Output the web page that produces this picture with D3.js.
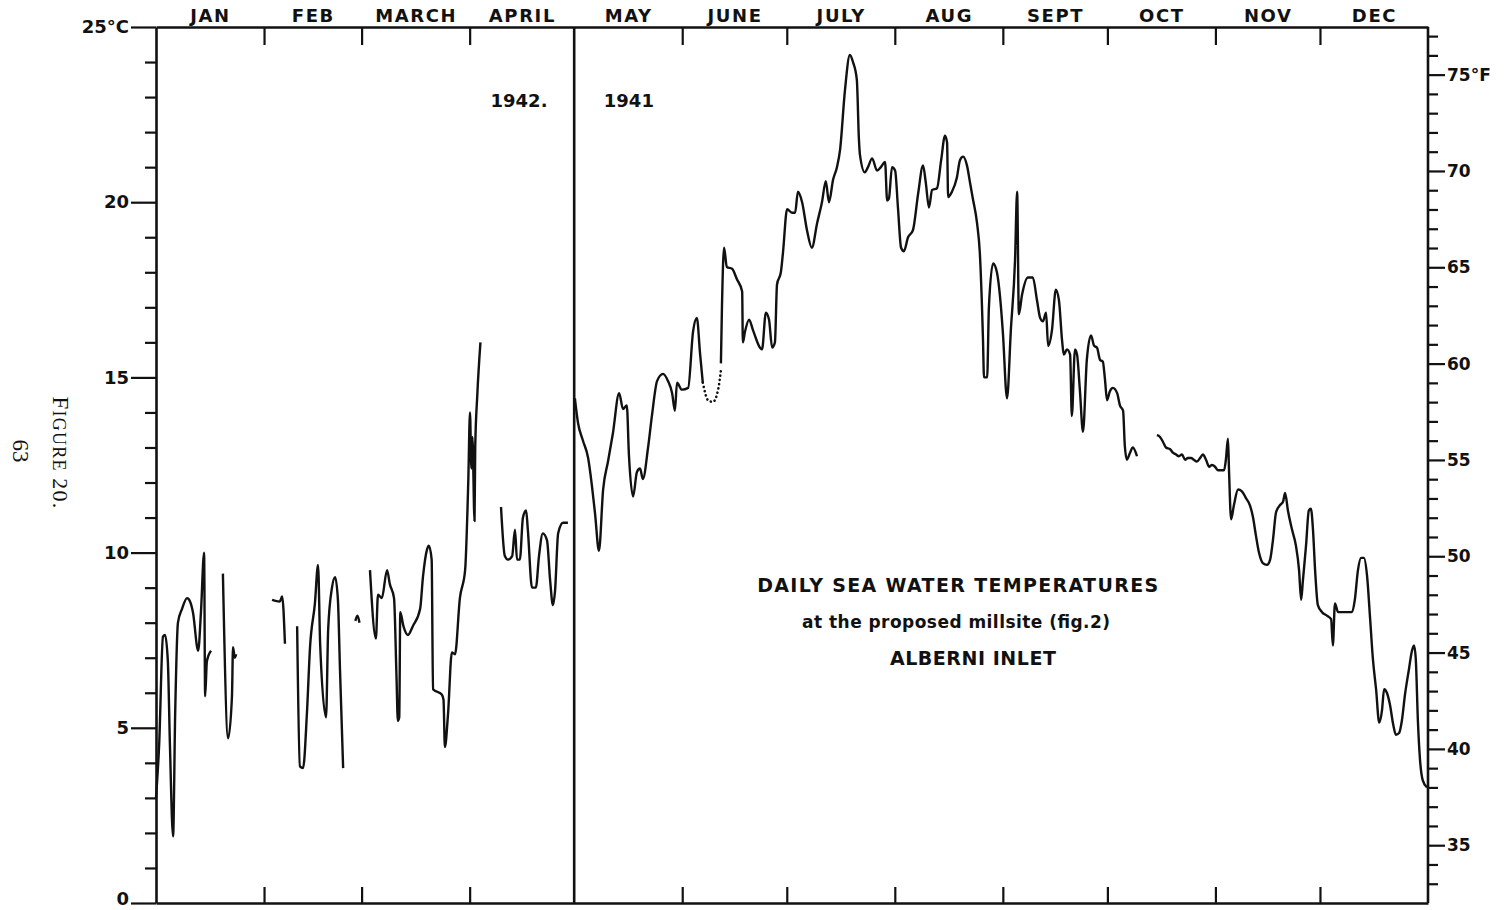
<!DOCTYPE html>
<html>
<head>
<meta charset="utf-8">
<script src="https://cdnjs.cloudflare.com/ajax/libs/d3/7.8.5/d3.min.js"></script>
<style>
  body { margin: 0; background: #fff; }
  svg { display: block; }
</style>
</head>
<body>
<svg id="chart" width="1506" height="910"></svg>
<script>
// month names and first day of each month (day of year, 0 = Jan 1)
const months = ["JAN", "FEB", "MARCH", "APRIL", "MAY", "JUNE", "JULY", "AUG", "SEPT", "OCT", "NOV", "DEC"];
const monthStart = [0, 31, 59, 90, 120, 151, 181, 212, 243, 273, 304, 334, 365];
const celsiusTicks = [0, 5, 10, 15, 20, 25];
const fahrenheitTicks = [35, 40, 45, 50, 55, 60, 65, 70, 75];

// daily readings, [day of year, °C]; 1942 = Jan-April, 1941 = May-Dec
const jan1942a = [[0, 3.0], [0.9, 4.5], [2.0, 7.6], [2.6, 7.65], [3.4, 6.9], [4.0, 4.5], [4.9, 1.9], [5.5, 5.4],
  [6.3, 8.0], [7.5, 8.4], [8.9, 8.7], [9.8, 8.6], [10.6, 8.3], [12.1, 7.2], [12.9, 8.3], [13.8, 10.0],
  [14.1, 5.9], [14.6, 6.9], [15.8, 7.2]];
const jan1942b = [[19.2, 9.4], [20.7, 4.7], [21.8, 5.9], [22.1, 7.3], [22.6, 7.0], [23.0, 7.1]];
const feb1942a = [[33.3, 8.65], [35.5, 8.6], [36.2, 8.75], [37.0, 7.4]];
const feb1942b = [[40.5, 7.9], [41.3, 3.9], [42.2, 3.85], [43.3, 5.4], [44.2, 7.3], [45.6, 8.55], [46.5, 9.65],
  [47.1, 7.4], [48.8, 5.3], [49.4, 7.8], [50.5, 9.0], [51.4, 9.3], [52.2, 8.65], [52.8, 6.65], [53.7, 3.85]];
const feb1942c = [[57.2, 8.05], [57.8, 8.2], [58.4, 8.0]];
const mar1942 = [[61.4, 9.5], [63.1, 7.55], [63.7, 8.8], [64.8, 8.7], [66.3, 9.5], [67.1, 9.1], [68.3, 8.7],
  [69.0, 6.5], [69.4, 5.2], [69.8, 5.3], [70.1, 8.3], [71.0, 7.9], [72.3, 7.65], [73.7, 7.9], [75.8, 8.4],
  [76.6, 9.3], [77.8, 10.1], [78.3, 10.2], [79.1, 9.8], [79.5, 6.1], [82.0, 5.95], [82.5, 5.8], [82.9, 4.45],
  [83.8, 5.4], [84.9, 7.15], [85.8, 7.1], [87.2, 8.7], [88.7, 9.5], [89.6, 12.0], [90.1, 14.0], [90.5, 12.4],
  [90.8, 13.3], [91.4, 10.9], [91.6, 13.0], [92.2, 14.5], [93.1, 16.0]];
const apr1942 = [[99.0, 11.3], [100.1, 9.9], [101.0, 9.8], [102.2, 9.9], [103.0, 10.65], [103.6, 9.8],
  [104.4, 9.8], [105.3, 11.0], [106.2, 11.2], [106.7, 10.65], [107.9, 9.0], [109.0, 9.0], [109.9, 9.9],
  [111.0, 10.55], [112.2, 10.35], [113.1, 9.2], [113.9, 8.5], [114.5, 8.9], [115.4, 10.55], [116.8, 10.85],
  [118.2, 10.85]];
const may1941 = [[120.2, 14.4], [121.1, 13.7], [122.5, 13.2], [124.0, 12.7], [125.1, 11.9], [126.0, 11.1],
  [127.1, 10.05], [128.3, 11.8], [129.7, 12.6], [131.1, 13.4], [132.9, 14.55], [134.0, 14.1], [135.1, 14.2],
  [135.7, 12.8], [136.9, 11.6], [138.0, 12.3], [138.9, 12.4], [139.7, 12.1], [141.2, 13.0], [142.3, 13.9],
  [143.8, 14.9], [145.5, 15.1], [146.9, 14.9], [148.1, 14.55], [148.9, 14.05], [149.5, 14.85], [150.9, 14.65],
  [152.7, 14.7], [154.1, 16.3], [155.2, 16.7], [156.1, 15.7], [156.9, 14.85]];
const june1941est = [[156.9, 14.85], [158.4, 14.35], [159.8, 14.3], [161.3, 14.65], [162.1, 15.2]];
const summer1941 = [[162.1, 15.4], [162.4, 17.0], [163.0, 18.7], [163.8, 18.15], [165.3, 18.1], [166.7, 17.8],
  [168.2, 17.45], [168.4, 16.0], [169.0, 16.3], [170.2, 16.65], [171.3, 16.35], [173.9, 15.8], [175.0, 16.85],
  [175.9, 16.65], [176.8, 15.85], [177.6, 16.0], [178.2, 17.65], [179.3, 18.0], [179.9, 18.55], [181.1, 19.8],
  [182.5, 19.7], [183.4, 19.7], [184.2, 20.3], [185.4, 20.0], [186.8, 19.2], [188.2, 18.7], [189.7, 19.4],
  [191.1, 20.0], [192.2, 20.6], [193.1, 20.0], [194.3, 20.65], [195.4, 21.0], [196.3, 21.5], [197.7, 23.2],
  [199.1, 24.2], [200.0, 24.0], [201.1, 23.5], [201.7, 21.8], [202.0, 21.35], [203.4, 20.85], [204.3, 21.0],
  [205.5, 21.25], [206.9, 20.9], [208.0, 21.0], [209.2, 21.15], [209.8, 20.05], [210.3, 20.1], [211.2, 21.0],
  [212.1, 20.9], [212.9, 19.85], [213.8, 18.7], [214.6, 18.6], [215.8, 19.0], [217.2, 19.2], [218.7, 20.25],
  [220.1, 21.05], [220.9, 20.55], [221.8, 19.85], [222.7, 20.35], [224.1, 20.4], [225.3, 21.2], [226.4, 21.9],
  [227.0, 21.7], [227.3, 20.15], [228.4, 20.3], [229.8, 20.7], [230.7, 21.2], [231.6, 21.3], [232.7, 21.05],
  [233.6, 20.55], [234.4, 20.1], [235.6, 19.4], [236.4, 18.55], [237.3, 16.1], [237.6, 15.0], [238.5, 15.0],
  [239.0, 17.0], [240.2, 18.25], [241.3, 18.0], [242.2, 17.3], [243.0, 16.3], [244.2, 14.4], [245.3, 16.35],
  [246.5, 18.35], [247.1, 20.3], [247.6, 16.8], [248.5, 17.35], [250.2, 17.85], [251.6, 17.85], [252.8, 17.2],
  [253.7, 16.7], [254.5, 16.6], [255.4, 16.85], [256.0, 15.9], [257.1, 16.35], [258.2, 17.5], [259.1, 17.2],
  [260.0, 16.05], [260.5, 15.65], [261.4, 15.8], [262.3, 15.65], [262.8, 13.9], [263.7, 15.8], [264.3, 15.65],
  [265.1, 14.65], [266.0, 13.45], [267.1, 15.5], [268.3, 16.2], [269.2, 15.9], [270.0, 15.85], [270.9, 15.5],
  [271.7, 15.45], [272.3, 14.95], [272.9, 14.35], [273.7, 14.6], [274.6, 14.7], [275.8, 14.55], [276.6, 14.2],
  [277.5, 14.05], [278.0, 13.05], [278.6, 12.65], [279.5, 12.85], [280.3, 13.0], [281.5, 12.75]];
const fall1941 = [[287.2, 13.35], [288.1, 13.3], [289.0, 13.15], [289.8, 13.0], [291.0, 12.95], [291.8, 12.85],
  [292.7, 12.8], [293.5, 12.75], [294.4, 12.8], [295.3, 12.65], [296.1, 12.7], [297.0, 12.7], [297.8, 12.65],
  [298.7, 12.6], [299.6, 12.7], [300.4, 12.8], [301.3, 12.65], [302.2, 12.45], [303.0, 12.5], [303.9, 12.45],
  [304.7, 12.35], [305.6, 12.35], [306.5, 12.35], [307.0, 12.65], [307.6, 13.25], [307.9, 12.35], [308.5, 10.95],
  [309.3, 11.35], [310.5, 11.8], [311.6, 11.75], [312.8, 11.55], [313.9, 11.35], [314.8, 11.0], [315.6, 10.5],
  [316.5, 10.0], [317.6, 9.7], [318.8, 9.65], [319.7, 9.8], [320.5, 10.35], [321.4, 11.15], [322.5, 11.35],
  [323.4, 11.45], [324.0, 11.7], [324.8, 11.2], [326.0, 10.65], [327.1, 10.2], [328.0, 9.5], [328.6, 8.65],
  [329.1, 9.2], [330.0, 10.2], [330.8, 11.2], [331.4, 11.25], [332.0, 10.65], [332.6, 9.5], [333.4, 8.5],
  [334.6, 8.3], [336.0, 8.2], [337.2, 8.1], [337.7, 7.35], [338.3, 8.55], [339.2, 8.3], [340.3, 8.3],
  [341.8, 8.3], [343.2, 8.3], [344.0, 8.65], [344.9, 9.5], [345.8, 9.85], [346.6, 9.85], [347.5, 9.35],
  [348.4, 8.1], [349.2, 6.95], [350.1, 6.1], [351.0, 5.15], [351.8, 5.5], [352.4, 6.1], [353.2, 6.0],
  [354.1, 5.65], [355.0, 5.1], [355.8, 4.8], [356.7, 4.85], [357.5, 5.2], [358.4, 5.95], [359.5, 6.65],
  [360.4, 7.2], [361.0, 7.35], [361.5, 6.95], [362.1, 5.2], [362.7, 4.1], [363.5, 3.5], [364.7, 3.3]];

const solidSegments = [jan1942a, jan1942b, feb1942a, feb1942b, feb1942c, mar1942, apr1942, may1941, summer1941, fall1941];

const svg = d3.select("#chart");
const FONT = '"DejaVu Sans", Verdana, sans-serif';
const SERIF = '"Liberation Serif", "DejaVu Serif", serif';
const INK = "#111";

const x = d3.scaleLinear().domain([0, 365]).range([156, 1428]);
const y = d3.scaleLinear().domain([0, 25]).range([903, 27]);
// the hand-drawn °F scale is a touch shorter than the °C one
const yF = d3.scaleLinear().domain([32, 77]).range([y(0), y(24.74)]);

function inkAxis(g, size) {
    g.attr("font-family", FONT).attr("font-size", size).attr("font-weight", "bold");
    g.selectAll("line").attr("stroke", INK).attr("stroke-width", 2.2);
    g.selectAll("path").attr("stroke", INK).attr("stroke-width", 2.6);
    g.selectAll("text").attr("fill", INK);
}

// left °C axis, minor ticks every degree
svg.append("g")
    .attr("transform", `translate(${x(0)},0)`)
    .call(d3.axisLeft(y).tickValues(d3.range(1, 25).filter(d => d % 5)).tickSize(11).tickSizeOuter(0).tickFormat(""))
    .call(g => inkAxis(g, 18));

svg.append("g")
    .attr("transform", `translate(${x(0)},0)`)
    .call(d3.axisLeft(y).tickValues(celsiusTicks).tickSize(25).tickPadding(2)
        .tickFormat(d => d === 25 ? "25°C" : d))
    .call(g => {
        g.select(".domain").remove();
        inkAxis(g, 18);
        g.selectAll("text").filter(d => d === 0).attr("dy", "0.1em");
    });

// right °F axis
svg.append("g")
    .attr("transform", `translate(${x(365)},0)`)
    .call(d3.axisRight(yF).tickValues(d3.range(33, 78).filter(d => d % 5)).tickSize(10).tickFormat(""))
    .call(g => { g.select(".domain").remove(); inkAxis(g, 17); });

svg.append("g")
    .attr("transform", `translate(${x(365)},0)`)
    .call(d3.axisRight(yF).tickValues(fahrenheitTicks).tickSize(17).tickPadding(2)
        .tickFormat(d => d === 75 ? "75°F" : d))
    .call(g => { g.select(".domain").remove(); inkAxis(g, 17); });

// top: month names and month boundary ticks
svg.append("g")
    .attr("transform", `translate(0,${y(25)})`)
    .call(d3.axisTop(x).tickValues(months.map((m, i) => (monthStart[i] + monthStart[i + 1]) / 2))
        .tickSize(0).tickPadding(5).tickFormat((d, i) => months[i]))
    .call(g => { inkAxis(g, 18); g.selectAll("text").attr("letter-spacing", 1.6); });

const boundaries = monthStart.slice(1, -1).filter(d => d !== 120);

svg.append("g")
    .attr("transform", `translate(0,${y(25)})`)
    .call(d3.axisTop(x).tickValues(boundaries).tickSize(-18).tickFormat(""))
    .call(g => { g.select(".domain").remove(); inkAxis(g, 18); });

svg.append("g")
    .attr("transform", `translate(0,${y(0)})`)
    .call(d3.axisBottom(x).tickValues(boundaries).tickSize(-16).tickSizeOuter(0).tickFormat(""))
    .call(g => inkAxis(g, 18));

// right frame edge and the 1942 / 1941 divider
svg.append("line")
    .attr("x1", x(365)).attr("x2", x(365)).attr("y1", y(0)).attr("y2", y(25))
    .attr("stroke", INK).attr("stroke-width", 2.6);
svg.append("line")
    .attr("x1", x(120)).attr("x2", x(120)).attr("y1", y(0)).attr("y2", y(25))
    .attr("stroke", INK).attr("stroke-width", 2.6);

// temperature trace
const line = d3.line().x(d => x(d[0])).y(d => y(d[1])).curve(d3.curveMonotoneX);

svg.append("g").selectAll("path")
    .data(solidSegments)
    .enter()
    .append("path")
    .attr("d", line)
    .attr("fill", "none")
    .attr("stroke", INK)
    .attr("stroke-width", 2.4)
    .attr("stroke-linejoin", "round");

svg.append("path")
    .datum(june1941est)
    .attr("d", line)
    .attr("fill", "none")
    .attr("stroke", INK)
    .attr("stroke-width", 2.6)
    .attr("stroke-linecap", "round")
    .attr("stroke-dasharray", "0.1,4.2");

// labels
const label = (txt, px, py, size, opts = {}) => svg.append("text")
    .attr("x", px).attr("y", py)
    .attr("font-family", opts.family || FONT)
    .attr("font-weight", opts.weight || "bold")
    .attr("font-size", size)
    .attr("fill", INK)
    .attr("text-anchor", opts.anchor || "start")
    .text(txt);

label("1942.", x(96.0), y(22.72), 18);
label("1941", x(128.5), y(22.72), 18);

label("DAILY SEA WATER TEMPERATURES", x(172.5), y(8.88), 19).attr("textLength", 401).attr("lengthAdjust", "spacing");
label("at the proposed millsite (fig.2)", x(185.4), y(7.85), 17).attr("textLength", 308).attr("lengthAdjust", "spacing");
label("ALBERNI INLET", x(210.6), y(6.8), 19).attr("textLength", 166).attr("lengthAdjust", "spacing");

const fig = svg.append("text")
    .attr("transform", "translate(53,453) rotate(90)")
    .attr("text-anchor", "middle")
    .attr("font-family", SERIF)
    .attr("fill", INK)
    .attr("letter-spacing", 1.2);
fig.append("tspan").attr("font-size", 23).text("F");
fig.append("tspan").attr("font-size", 18).text("IGURE");
fig.append("tspan").attr("font-size", 22).text(" 20.");

label("63", 0, 0, 23, { family: SERIF, weight: "normal", anchor: "middle" })
    .attr("transform", "translate(13,451) rotate(90)");
</script>
</body>
</html>
